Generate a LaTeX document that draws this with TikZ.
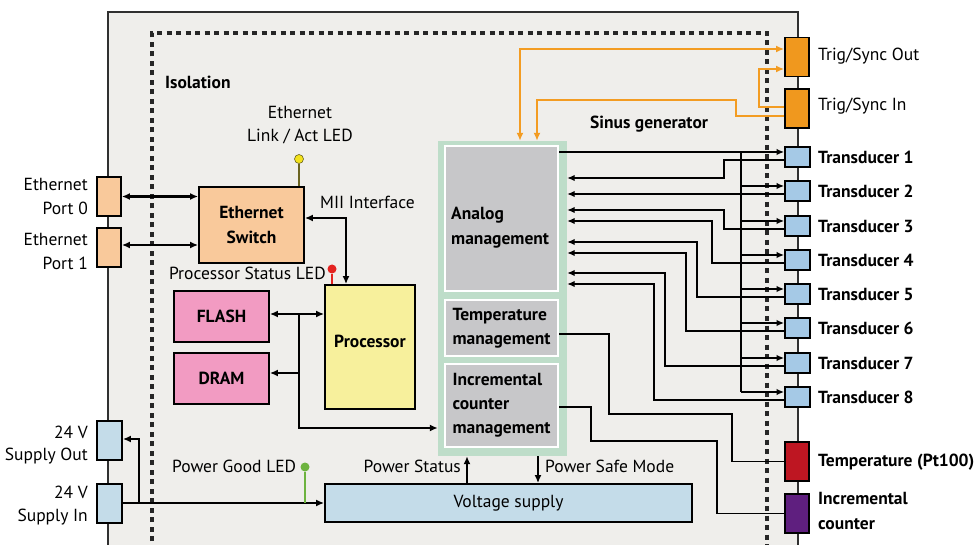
\documentclass[tikz,border=0pt]{standalone}
\usepackage{fontspec}
\setmainfont{PT Sans}
\usetikzlibrary{arrows.meta}
\definecolor{bgc}{HTML}{EFEEEB}
\definecolor{peach}{HTML}{F9C99B}
\definecolor{pinkc}{HTML}{F29BC2}
\definecolor{procy}{HTML}{F7F09C}
\definecolor{grn}{HTML}{BEDDC9}
\definecolor{mgmt}{HTML}{C7C7C9}
\definecolor{supb}{HTML}{C4DCE9}
\definecolor{trb}{HTML}{A5C9E6}
\definecolor{orc}{HTML}{F0981E}
\definecolor{orl}{HTML}{F39C22}
\definecolor{redc}{HTML}{BE1622}
\definecolor{purc}{HTML}{5F1F7F}
\definecolor{ledy}{HTML}{F3E21B}
\definecolor{ledr}{HTML}{E42320}
\definecolor{ledg}{HTML}{6DB33F}
\definecolor{stemy}{HTML}{6B6420}
\definecolor{frame}{HTML}{303030}
\begin{document}
\begin{tikzpicture}[x=1pt,y=-1pt,
  reg/.style={font=\fontsize{17.5}{24}\selectfont, inner sep=0pt},
  bld/.style={font=\bfseries\fontsize{17.5}{24}\selectfont, inner sep=0pt},
  blk/.style={draw=black, line width=1.8pt, inner sep=0pt},
  port/.style={blk, minimum width=24pt, minimum height=39pt},
  tbox/.style={blk, fill=trb, minimum width=25pt, minimum height=20pt},
  mg/.style={draw=white, line width=2pt, fill=mgmt, inner sep=0pt, minimum width=113pt},
  led/.style={circle, draw=none, minimum size=9pt, inner sep=0pt},
  bar/.style={line width=2.2pt, line join=miter},
  thin/.style={line width=1.4pt},
  bt/.style={-{Latex[length=8pt,width=7pt]}},
  bbt/.style={{Latex[length=8pt,width=7pt]}-{Latex[length=8pt,width=7pt]}},
  tt/.style={-{Latex[length=7.5pt,width=6.5pt]}},
  orw/.style={draw=orl, line width=2pt},
]
\useasboundingbox (0,0) rectangle (977,545);
\begin{scope}
\clip (0,0) rectangle (977,545);
\fill[white] (0,0) rectangle (977,545);
\fill[bgc] (108,12) rectangle (798,560);
\draw[frame, line width=1.6pt] (108,560) -- (108,12) -- (798,12) -- (798,560);
\draw[black!85, line width=3.5pt, dash pattern=on 5pt off 4.5pt] (152,560) -- (152,33) -- (767,33) -- (767,560);
\end{scope}

% labels of regions
\node[bld, anchor=west] (iso) at (165,82) {Isolation};
\node[bld, anchor=west] (sinus) at (590,124) {Sinus generator};

% Ethernet
\node[port, fill=peach] (p0) at (109,196.5) {};
\node[port, fill=peach] (p1) at (109,247.5) {};
\node[reg, align=right, anchor=east] (p0l) at (88,196) {Ethernet\\Port 0};
\node[reg, align=right, anchor=east] (p1l) at (88,251) {Ethernet\\Port 1};
\node[blk, fill=peach, minimum width=105pt, minimum height=76pt, bld, font=\bfseries\fontsize{17.5}{25}\selectfont, align=center] (sw) at (251.5,225) {Ethernet\\Switch};
\draw[bar,bbt] (p0.east) -- (sw.west |- p0.east);
\coordinate (p1a) at (121,245);
\draw[bar,bbt] (p1.east |- p1a) -- (sw.west |- p1a);

\node[reg, align=center, font=\fontsize{17.5}{23}\selectfont] (ethled) at (300,125.5) {Ethernet\\Link / Act LED};
\node[led, fill=ledy, draw=stemy, line width=0.6pt] (ledy) at (299,159) {};
\draw[stemy, line width=1.6pt] (ledy.south) -- (ledy.south |- sw.north);

% processor
\node[blk, fill=procy, minimum width=90pt, minimum height=124pt] (proc) at (370,347) {};
\node[bld] (proct) at (370,341) {Processor};
\node[reg, anchor=west] (mii) at (320,202) {MII Interface};
\coordinate (miic) at (346,218);
\draw[bar,bbt] (sw.east |- miic) -- (miic) -- (miic |- proc.north);
\node[reg, anchor=east] (psl) at (326,273) {Processor Status LED};
\node[led, fill=ledr] (ledr) at (332,269) {};
\draw[ledr, line width=1.8pt] (ledr.south) -- (ledr.south |- proc.north);

\node[blk, fill=pinkc, minimum width=95pt, minimum height=51pt, bld] (flash) at (221.5,316.5) {FLASH};
\node[blk, fill=pinkc, minimum width=95pt, minimum height=51pt, bld] (dram) at (221.5,378.5) {DRAM};

% sinus generator container
\node[fill=grn, minimum width=129pt, minimum height=315pt, inner sep=0pt] (grnbox) at (502.5,298.5) {};
\node[mg, minimum height=145pt] (an) at (501.5,218.5) {};
\node[bld, align=left, anchor=west, font=\bfseries\fontsize{17.5}{25}\selectfont] (ant) at (451,227.5) {Analog\\management};
\node[mg, minimum height=56pt, align=left, bld, font=\bfseries\fontsize{17.5}{24}\selectfont] (tm) at (501.5,328) {Temperature\\management};
\node[mg, minimum height=83pt, align=left, bld, font=\bfseries\fontsize{17.5}{24}\selectfont] (im) at (501.5,405.5) {Incremental\\counter\\management};

% memory bus
\coordinate (busj) at (299,314);
\coordinate (busb) at (299,428);
\coordinate (dj) at (299,373);
\draw[bar,bbt] (flash.east |- busj) -- (proc.west |- busj);
\draw[bar,bt] (busj) -- (busb) -- (grnbox.west |- busb);
\draw[bar,bt] (dj) -- (dram.east |- dj);

% power
\node[port, fill=supb, minimum width=25pt] (supout) at (109.5,440.5) {};
\node[port, fill=supb, minimum width=25pt] (supin) at (109.5,503.5) {};
\node[reg, align=right, anchor=east, font=\fontsize{17.5}{22}\selectfont] (sol) at (88,445) {24 V\\Supply Out};
\node[reg, align=right, anchor=east, font=\fontsize{17.5}{23}\selectfont] (sil) at (88,505.5) {24 V\\Supply In};
\node[blk, fill=supb, minimum width=367pt, minimum height=38pt, reg] (vsup) at (508.5,503) {Voltage supply};
\coordinate (pwr) at (122,503);
\draw[bar,bt] (pwr) -- (vsup.west |- pwr);
\coordinate (pj) at (139,503);
\coordinate (pjo) at (139,439);
\draw[bar,bt] (pj) -- (pjo) -- (supout.east |- pjo);
\node[reg, anchor=west] (pgl) at (172,466) {Power Good LED};
\node[led, fill=ledg] (ledg) at (305,467) {};
\draw[ledg, line width=1.8pt] (ledg.south) -- (ledg.south |- pwr);
\coordinate (psx) at (467,470);
\coordinate (psm) at (538,470);
\draw[bar,bt] (psx |- vsup.north) -- (psx |- grnbox.south);
\draw[bar,bt] (psm |- grnbox.south) -- (psm |- vsup.north);
\node[reg, anchor=east] (pst) at (461,466) {Power Status};
\node[reg, anchor=west] (psmt) at (545,466) {Power Safe Mode};

% right connectors
\node[port, fill=orc] (trigout) at (797,57) {};
\node[port, fill=orc] (trigin) at (797,108.5) {};
\node[reg, anchor=west] (tol) at (818,56) {Trig/Sync Out};
\node[reg, anchor=west] (til) at (818,106) {Trig/Sync In};
\foreach \i/\y in {1/157,2/191,3/226,4/260,5/294,6/328,7/363,8/397}{
  \node[tbox] (t\i) at (797.5,\y) {};
  \node[bld, anchor=west] (tl\i) at (818,\y) {Transducer \i};
  \coordinate (f\i) at ([yshift=5pt]t\i.west);
  \coordinate (r\i) at ([yshift=-3pt]t\i.west);
}
\node[port, fill=redc] (temp) at (797,461.5) {};
\node[port, fill=purc] (inc) at (797,513.5) {};
\node[bld, anchor=west] (templ) at (818,462) {Temperature (Pt100)};
\node[bld, anchor=west, align=left, font=\bfseries\fontsize{17.5}{25}\selectfont] (incl) at (818,510.5) {Incremental\\counter};

% orange trigger lines
\coordinate (o1) at (520,49);
\draw[orw, {Latex[length=8pt,width=7pt]}-{Latex[length=8pt,width=7pt]}] (o1 |- grnbox.north) -- (o1) -- (trigout.west |- o1);
\coordinate (o2) at (736,100);
\coordinate (o2b) at (537,100);
\draw[orw, bt] ([yshift=-7.5pt]trigin.west) -| (o2) -- (o2b) -- (o2b |- grnbox.north);
\coordinate (o3) at (759,69);
\draw[orw, bt] ([yshift=1.5pt]trigin.west) -| (o3) -- (trigout.west |- o3);

% transducer feed
\coordinate (bus) at (741,150);
\draw[thin, tt] (an.east |- f1) -- (f1);
\draw[thin] (bus |- f1) -- (bus |- f8);
\foreach \i in {2,...,8}{
  \draw[thin, tt] (bus |- f\i) -- (f\i);
}
% transducer returns
\foreach \i/\x/\a in {1/724/178,2/724/194,3/724/210,4/712/221,5/697/242,6/686/253,7/665/273,8/654/284}{
  \coordinate (a\i) at (\x,\a);
  \draw[thin, tt] (r\i) -| (a\i) -- (grnbox.east |- a\i);
}
% temperature and incremental wiring
\coordinate (tm1) at (609,414);
\coordinate (tm2) at (732,461.5);
\draw[thin] ([yshift=-6pt]tm.east) -| (tm1) -| (tm2) -- (temp.west);
\coordinate (im1) at (591,441);
\coordinate (im2) at (717,513.5);
\draw[thin] ([yshift=-1.5pt]im.east) -| (im1) -| (im2) -- (inc.west);
\end{tikzpicture}
\end{document}
